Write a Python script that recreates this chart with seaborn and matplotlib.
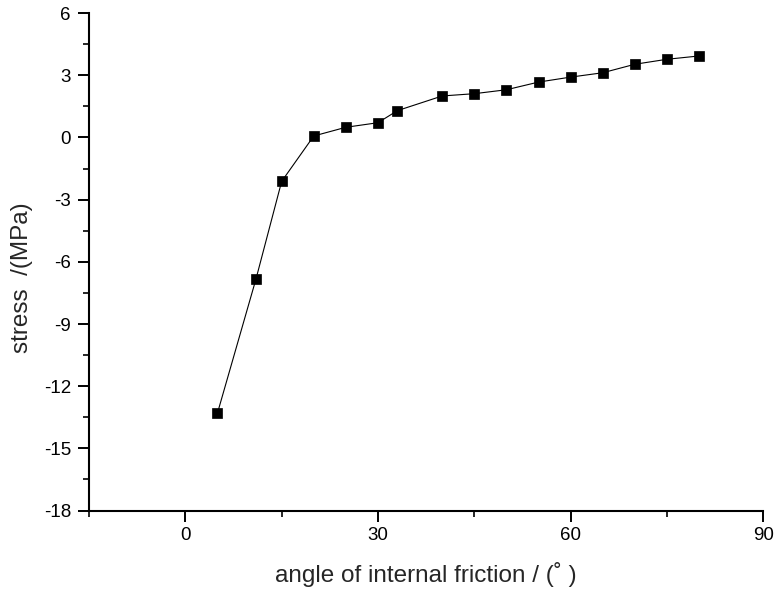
import matplotlib
matplotlib.use("Agg")
import matplotlib.pyplot as plt
import seaborn as sns
import pandas as pd
from matplotlib.ticker import MultipleLocator

angle = [5, 11, 15, 20, 25, 30, 33, 40, 45, 50, 55, 60, 65, 70, 75, 80]
stress = [-13.3, -6.83, -2.12, 0.07, 0.49, 0.71, 1.29, 2.0, 2.11, 2.30, 2.67, 2.91, 3.12, 3.53, 3.77, 3.93]

df = pd.DataFrame({"angle": angle, "stress": stress})

sns.set_style("ticks")
plt.rcParams['font.family'] = ['Liberation Sans', 'DejaVu Sans']
plt.rcParams['axes.unicode_minus'] = False

fig = plt.figure(figsize=(7.74, 5.93), dpi=100)
ax = fig.add_axes([0.115, 0.139, 0.8712, 0.839])

sns.lineplot(data=df, x="angle", y="stress", ax=ax, color="black", linewidth=0.8,
             marker="s", markersize=7.5, markeredgecolor="black", markeredgewidth=0.5,
             markerfacecolor="black")

ax.set_xlim(-15, 90)
ax.set_ylim(-18, 6)
ax.xaxis.set_major_locator(MultipleLocator(30))
ax.xaxis.set_minor_locator(MultipleLocator(15))
ax.yaxis.set_major_locator(MultipleLocator(3))
ax.yaxis.set_minor_locator(MultipleLocator(1.5))

for s in ["top", "right"]:
    ax.spines[s].set_visible(False)
for s in ["left", "bottom"]:
    ax.spines[s].set_linewidth(1.5)
    ax.spines[s].set_color("black")

ax.tick_params(which="major", direction="out", length=8, width=1.4, labelsize=13.5, colors="black")
ax.tick_params(axis="y", which="major", pad=5)
ax.tick_params(axis="x", which="major", pad=3.5)
ax.tick_params(which="minor", direction="out", length=4.3, width=1.4)

ax.set_xlabel("angle of internal friction / (\u02da )", fontsize=17.5, labelpad=13)
ax.set_ylabel("stress  /(MPa)", fontsize=17.5)
ax.yaxis.set_label_coords(-0.083, 0.4676)

fig.savefig("out.png", dpi=100)
